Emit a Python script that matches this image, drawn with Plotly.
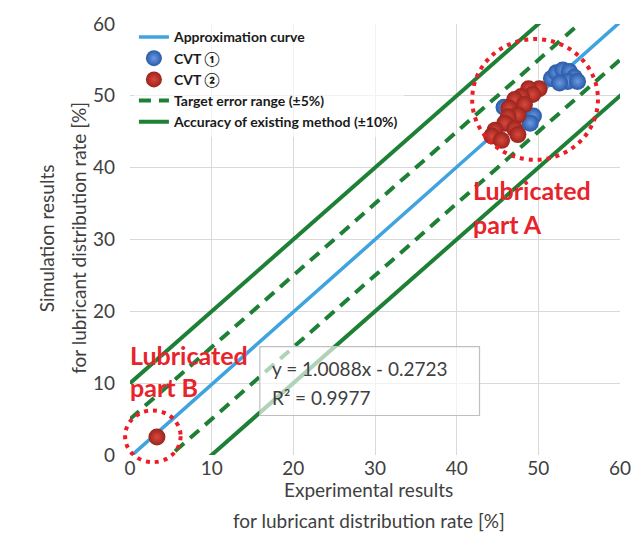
import plotly.graph_objects as go

# ---------------- data ----------------
X_RANGE = [0, 60]
Y_RANGE = [0, 60]
tick_vals = [0, 10, 20, 30, 40, 50, 60]

fit_slope = 1.0088
fit_intercept = -0.2723
fit_x = [0, 60]

target_offsets = [5, -5]      # +-5 % dashed
existing_offsets = [10, -10]  # +-10 % solid
band_x = [0, 70]

cvt1_x = [51.6, 52.2, 53.0, 53.8, 54.4, 53.6, 52.6, 54.8, 45.8, 49.4, 49.0]
cvt1_y = [52.4, 53.2, 53.6, 53.4, 52.6, 52.0, 51.8, 52.0, 48.4, 47.2, 46.2]

cvt2_x = [50.1, 48.8, 49.3, 47.9, 47.1, 48.3, 46.4, 47.5, 46.3, 45.9, 47.1, 47.5, 44.7, 44.3, 45.5, 3.3]
cvt2_y = [51.0, 51.0, 50.2, 49.9, 49.5, 48.8, 48.3, 47.3, 47.1, 46.2, 45.4, 44.6, 45.2, 44.4, 43.8, 2.5]

eq_text = ["y = 1.0088x - 0.2723", "R² = 0.9977"]

FONT = "Lato"
GREY = "#404040"
BLUE_LINE = "#3fa3df"
GREEN = "#1d8035"
RED_TXT = "#e8232b"


def fx(v):
    return (v - X_RANGE[0]) / (X_RANGE[1] - X_RANGE[0])


def fy(v):
    return (v - Y_RANGE[0]) / (Y_RANGE[1] - Y_RANGE[0])


fig = go.Figure()

# error band lines
for i, off in enumerate(existing_offsets):
    fig.add_trace(go.Scatter(
        x=band_x, y=[v + off for v in band_x], mode="lines",
        line=dict(color=GREEN, width=4),
        name="Accuracy of existing method (±10%)", legendgroup="acc",
        showlegend=(i == 0), legendrank=5))
for i, off in enumerate(target_offsets):
    fig.add_trace(go.Scatter(
        x=band_x, y=[v + off for v in band_x], mode="lines",
        line=dict(color=GREEN, width=4, dash="12px,8px"),
        name="Target error range (±5%)", legendgroup="tgt",
        showlegend=(i == 0), legendrank=4))

fig.add_trace(go.Scatter(
    x=fit_x, y=[fit_slope * v + fit_intercept for v in fit_x], mode="lines",
    line=dict(color=BLUE_LINE, width=3.5),
    name="Approximation curve", legendrank=1))

fig.add_trace(go.Scatter(
    x=cvt1_x, y=cvt1_y, mode="markers", name="CVT ①", legendrank=2,
    marker=dict(size=17, color="#2a5aa8", opacity=1, line=dict(width=0),
                gradient=dict(type="radial", color="#6a9ae2"))))
fig.add_trace(go.Scatter(
    x=cvt2_x, y=cvt2_y, mode="markers", name="CVT ②", legendrank=3,
    marker=dict(size=17, color="#9a241d", opacity=1,
                line=dict(width=0),
                gradient=dict(type="radial", color="#d9483d"))))

# red dotted circles
circles = [(49.6, 49.5, 7.7, 8.4), (2.8, 2.6, 3.4, 3.6)]
shapes = []
for cx, cy, rx, ry in circles:
    shapes.append(dict(type="circle", xref="x domain", yref="y domain",
                       x0=fx(cx - rx), x1=fx(cx + rx), y0=fy(cy - ry), y1=fy(cy + ry),
                       line=dict(color="#ee1c25", width=4, dash="4px,5px"), layer="above"))
# equation box
shapes.append(dict(type="rect", xref="x domain", yref="y domain",
                   x0=fx(15.9), x1=fx(42.8), y0=fy(5.5), y1=fy(15.1),
                   line=dict(color="#bfbfbf", width=1.2),
                   fillcolor="rgba(255,255,255,0.65)", layer="above"))

ann = []
ann.append(dict(x=fx(17.1), y=fy(12.1), xref="paper", yref="paper", text=eq_text[0],
                showarrow=False, xanchor="left", yanchor="middle",
                font=dict(family=FONT, size=19, color=GREY)))
ann.append(dict(x=fx(17.1), y=fy(8.0), xref="paper", yref="paper", text=eq_text[1],
                showarrow=False, xanchor="left", yanchor="middle",
                font=dict(family=FONT, size=19, color=GREY)))

red_labels = [("Lubricated", 41.7, 36.9), ("part A", 41.7, 32.1),
              ("Lubricated", -0.3, 13.9), ("part B", -0.3, 9.5)]
for t, x, y in red_labels:
    ann.append(dict(x=fx(x), y=fy(y), xref="paper", yref="paper", text=t, showarrow=False,
                    xanchor="left", yanchor="middle",
                    font=dict(family=FONT, size=25, color=RED_TXT, weight="bold")))

H = 560
W = 643
L, R, T, B = 130, 16, 18, 105
pw = W - L - R
ph = H - T - B
xt = [("Experimental results", 490), ("for lubricant distribution rate [%]", 521)]
yt = [("Simulation results", 45), ("for lubricant distribution rate [%]", 77)]
for t, py in xt:
    ann.append(dict(x=(372 - L) / pw, y=1 - (py - T) / ph, xref="paper", yref="paper", text=t,
                    showarrow=False, xanchor="center", yanchor="middle",
                    font=dict(family=FONT, size=19, color=GREY)))
for t, px in yt:
    ann.append(dict(x=(px - L) / pw, y=1 - (235 - T) / ph, xref="paper", yref="paper", text=t,
                    showarrow=False, xanchor="center", yanchor="middle", textangle=-90,
                    font=dict(family=FONT, size=19, color=GREY)))

axis_common = dict(tickvals=tick_vals, showgrid=True, gridcolor="#d9d9d9",
                   gridwidth=1, zeroline=False, showline=False, ticks="",
                   tickfont=dict(family=FONT, size=19, color=GREY))
fig.update_layout(
    width=W, height=H,
    margin=dict(l=L, r=R, t=T, b=B),
    paper_bgcolor="white", plot_bgcolor="white",
    xaxis=dict(axis_common, range=X_RANGE, ticklabelstandoff=0),
    yaxis=dict(axis_common, range=Y_RANGE, ticklabelstandoff=14),
    legend=dict(x=0.008, y=1.006, xanchor="left", yanchor="top",
                bgcolor="rgba(255,255,255,0.65)", borderwidth=0,
                font=dict(family=FONT, size=14, color="#1a1a1a", weight="bold"),
                itemsizing="trace", tracegroupgap=0),
    shapes=shapes, annotations=ann, showlegend=True,
)

fig.write_html("out.html")
